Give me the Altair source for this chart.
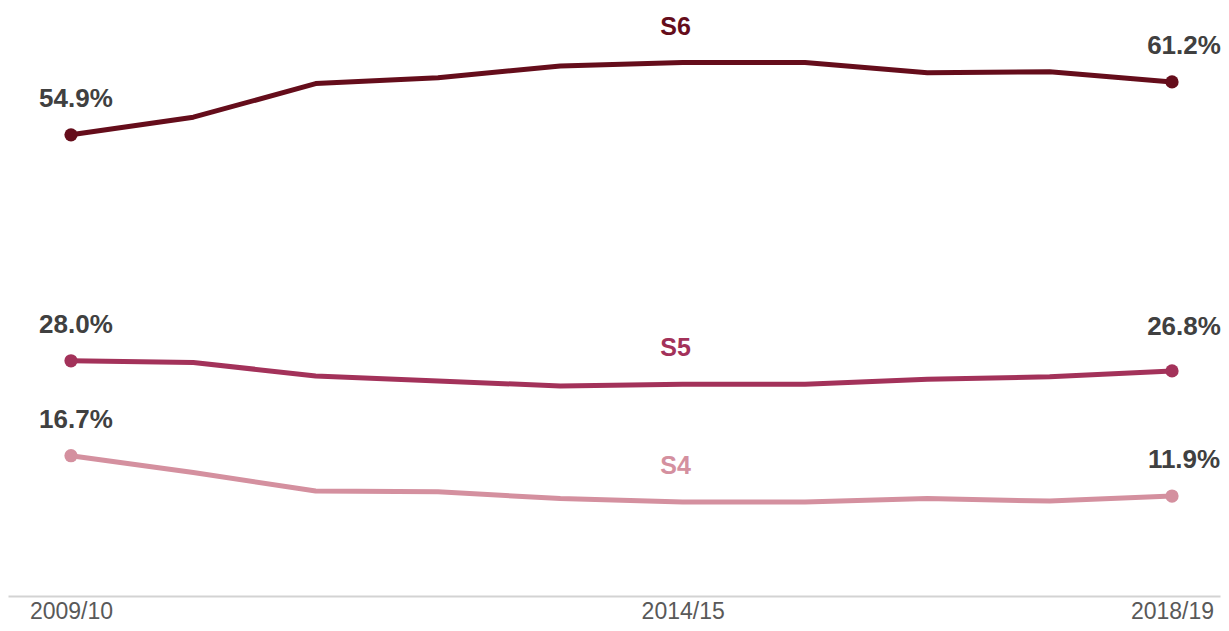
import altair as alt
import pandas as pd

years = ["2009/10", "2010/11", "2011/12", "2012/13", "2013/14",
         "2014/15", "2015/16", "2016/17", "2017/18", "2018/19"]
series_names = ["S6", "S5", "S4"]
s6 = [54.9, 57.0, 61.0, 61.7, 63.1, 63.5, 63.5, 62.3, 62.4, 61.2]
s5 = [28.0, 27.8, 26.2, 25.6, 25.0, 25.2, 25.2, 25.8, 26.1, 26.8]
s4 = [16.7, 14.7, 12.5, 12.4, 11.6, 11.2, 11.2, 11.6, 11.3, 11.9]
colors = ["#650d1b", "#a3325a", "#d4909f"]
axis_years = ["2009/10", "2014/15", "2018/19"]
label_year = "2014/15"

rows = []
for name, vals in zip(series_names, [s6, s5, s4]):
    for y, v in zip(years, vals):
        rows.append({"year": y, "series": name, "value": v,
                     "label": f"{v:.1f}%"})
df = pd.DataFrame(rows)

FONT = "Liberation Sans"

x = alt.X("year:O", sort=years,
          scale=alt.Scale(type="point", padding=0.4535, align=0.5676),
          axis=alt.Axis(values=axis_years, title=None, labelAngle=0,
                        ticks=False, tickSize=0, domainColor="#d3d3d3",
                        domainWidth=2, labelColor="#595959", labelFontSize=23,
                        labelFont=FONT, labelPadding=22,
                        labelBaseline="alphabetic", grid=False))
y = alt.Y("value:Q", scale=alt.Scale(domain=[0, 70], nice=False, zero=True),
          axis=None)
color = alt.Color("series:N", scale=alt.Scale(domain=series_names, range=colors),
                  legend=None)

base = alt.Chart(df).encode(x=x, y=y, color=color)

lines = base.mark_line(strokeWidth=5, strokeJoin="round", strokeCap="round")
ends = base.mark_circle(size=175, opacity=1).transform_filter(
    alt.FieldOneOfPredicate(field="year", oneOf=[years[0], years[-1]]))

first_lbl = base.mark_text(font=FONT, fontSize=26, fontWeight="bold",
                           color="#404040", dx=5, dy=-28,
                           baseline="alphabetic").encode(
    text="label:N", color=alt.value("#404040")).transform_filter(
    alt.datum.year == years[0])
last_lbl = base.mark_text(font=FONT, fontSize=26, fontWeight="bold",
                          color="#404040", dx=12, dy=-28,
                          baseline="alphabetic").encode(
    text="label:N", color=alt.value("#404040")).transform_filter(
    (alt.datum.year == years[-1]) & (alt.datum.series != "S5"))
last_lbl_s5 = base.mark_text(font=FONT, fontSize=26, fontWeight="bold",
                             color="#404040", dx=12, dy=-36,
                             baseline="alphabetic").encode(
    text="label:N", color=alt.value("#404040")).transform_filter(
    (alt.datum.year == years[-1]) & (alt.datum.series == "S5"))

name_lbl = base.mark_text(font=FONT, fontSize=25, fontWeight="bold",
                          dx=-7, dy=-28, baseline="alphabetic").encode(
    text="series:N").transform_filter(alt.datum.year == label_year)

chart = alt.layer(lines, ends, first_lbl, last_lbl, last_lbl_s5, name_lbl).properties(
    width=1213, height=615, padding=0,
    autosize=alt.AutoSizeParams(type="fit", contains="padding"),
    background="white",
).configure_view(stroke=None)

chart.save("out.html", embed_options={"renderer": "svg", "actions": False})
